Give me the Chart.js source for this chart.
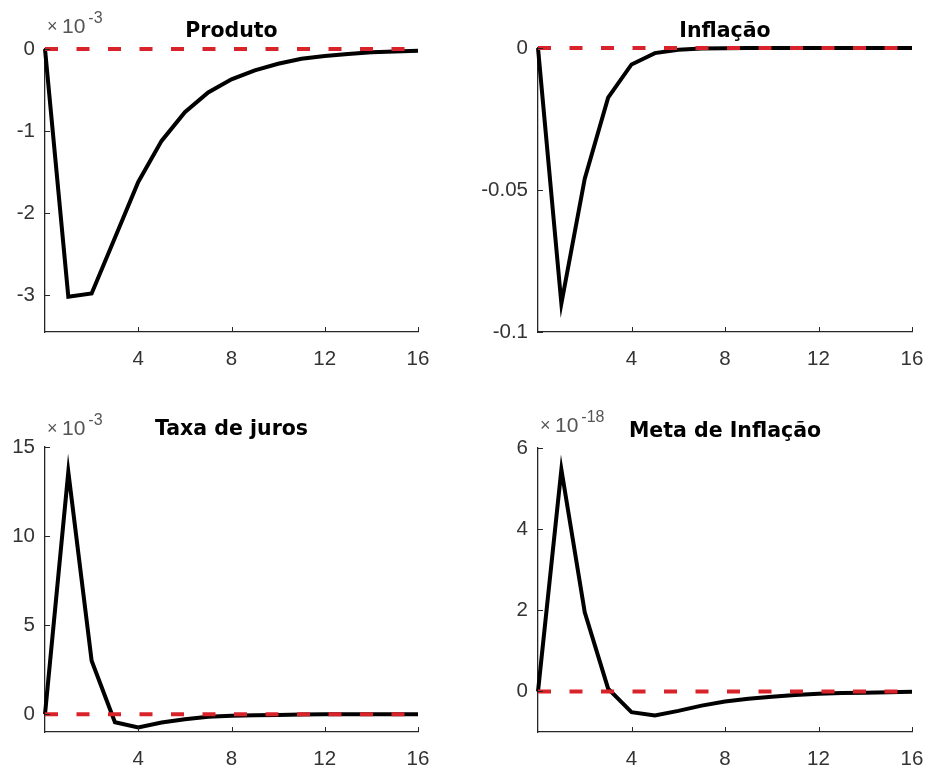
<!DOCTYPE html>
<html><head><meta charset="utf-8">
<script src="https://cdn.jsdelivr.net/npm/chart.js@4/dist/chart.umd.min.js"></script>
<style>
html,body{margin:0;padding:0;background:#fff;width:929px;height:769px;overflow:hidden;position:relative}
canvas{position:absolute;display:block}
</style></head><body>
<canvas id="c1" width="464" height="384" style="left:0px;top:0px;width:464px;height:384px"></canvas>
<canvas id="c2" width="475" height="384" style="left:464px;top:0px;width:475px;height:384px"></canvas>
<canvas id="c3" width="464" height="385" style="left:0px;top:384px;width:464px;height:385px"></canvas>
<canvas id="c4" width="475" height="385" style="left:464px;top:384px;width:475px;height:385px"></canvas>
<script>
// ---- data ----
const periods = [0,1,2,3,4,5,6,7,8,9,10,11,12,13,14,15,16];
const xTicks = [4,8,12,16];

const titles = ['Produto','Inflação','Taxa de juros','Meta de Inflação'];
const exponents = ['-3', null, '-3', '-18'];

// Produto (×10^-3)
const produto = [0,-3.02,-2.98,-2.30,-1.62,-1.12,-0.77,-0.53,-0.37,-0.26,-0.18,-0.12,-0.085,-0.06,-0.04,-0.03,-0.02];
const produtoYTicks = [-3,-2,-1,0];
const produtoYRange = [-3.45, 0];

// Inflação
const inflacao = [0,-0.090,-0.046,-0.0175,-0.0058,-0.0018,-0.0006,-0.0002,-0.0001,0,0,0,0,0,0,0,0];
const inflacaoYTicks = [-0.1,-0.05,0];
const inflacaoYRange = [-0.1, 0];

// Taxa de juros (×10^-3)
const juros = [0,13.6,3.0,-0.45,-0.75,-0.47,-0.28,-0.15,-0.09,-0.06,-0.04,-0.02,-0.01,-0.01,0,0,0];
const jurosYTicks = [0,5,10,15];
const jurosYRange = [-1, 15];

// Meta de Inflação (×10^-18)
const meta = [0,5.47,1.95,0.07,-0.51,-0.59,-0.48,-0.35,-0.25,-0.18,-0.13,-0.09,-0.06,-0.04,-0.03,-0.02,-0.01];
const metaYTicks = [0,2,4,6];
const metaYRange = [-1, 6];

const zeroLine = [0, 0];
const zeroLineX = [0, 16];

// ---- drawing ----
const AXIS_COLOR = '#262626';
const TEXT_COLOR = '#333333';
const RED = '#d9232b';

const decorPlugin = {
  id: 'panelDecor',
  afterDraw(chart, args, opts) {
    const ctx = chart.ctx;
    const a = chart.chartArea;
    const xs = chart.scales.x, ys = chart.scales.y;
    ctx.save();
    // inward ticks
    ctx.strokeStyle = AXIS_COLOR;
    ctx.lineWidth = 1;
    ctx.beginPath();
    ys.ticks.forEach(t => {
      const py = Math.round(ys.getPixelForValue(t.value)) + 0.5;
      ctx.moveTo(a.left, py); ctx.lineTo(a.left + 5, py);
    });
    xs.ticks.forEach(t => {
      const px = Math.round(xs.getPixelForValue(t.value)) + 0.5;
      ctx.moveTo(px, a.bottom); ctx.lineTo(px, a.bottom - 5);
    });
    ctx.stroke();
    // title
    ctx.fillStyle = '#000';
    ctx.font = 'bold 20.5px "DejaVu Sans"';
    ctx.textAlign = 'center';
    ctx.textBaseline = 'alphabetic';
    ctx.fillText(opts.title, (a.left + a.right) / 2, a.top - opts.titleGap);
    // exponent
    if (opts.exp) {
      ctx.textAlign = 'left';
      ctx.fillStyle = '#555';
      let x = a.left + 2;
      const base = a.top - opts.expGap;
      ctx.font = '18px "Liberation Sans"';
      ctx.fillText('×', x, base - 1);
      x += 15;
      ctx.font = '21px "Liberation Sans"';
      ctx.fillText('10', x, base);
      x += ctx.measureText('10').width + 3;
      ctx.font = '16px "Liberation Sans"';
      ctx.fillText(opts.exp, x, base - 10);
    }
    ctx.restore();
  }
};

function makePanel(id, values, yRange, yTicks, title, exp, geom) {
  const pts = periods.map((p, i) => ({x: p, y: values[i]}));
  const zeroPts = zeroLineX.map((p, i) => ({x: p, y: zeroLine[i]}));
  new Chart(document.getElementById(id), {
    type: 'line',
    data: {
      datasets: [
        { data: zeroPts, borderColor: RED, borderWidth: 4, borderDash: [13, 18.5],
          pointRadius: 0, tension: 0, clip: false, borderCapStyle: 'butt' },
        { data: pts, borderColor: '#000', borderWidth: 4, pointRadius: 0, tension: 0,
          clip: false, borderJoinStyle: 'miter', borderCapStyle: 'butt' }
      ]
    },
    options: {
      responsive: false,
      animation: false,
      events: [],
      layout: { padding: { top: geom.top, right: geom.right, left: 0, bottom: 0 } },
      plugins: {
        legend: { display: false },
        tooltip: { enabled: false },
        title: { display: false },
        panelDecor: { title: title, exp: exp, titleGap: geom.titleGap, expGap: geom.expGap }
      },
      scales: {
        x: {
          type: 'linear', min: 0, max: 16,
          afterBuildTicks: s => { s.ticks = xTicks.map(v => ({value: v})); },
          afterFit: s => { s.height = geom.xh; },
          grid: { display: false, drawTicks: false },
          border: { display: true, color: AXIS_COLOR, width: 1.3 },
          ticks: { color: TEXT_COLOR, font: { family: 'Liberation Sans', size: 20.5 }, padding: 15,
                   maxRotation: 0, autoSkip: false, callback: v => String(v) }
        },
        y: {
          type: 'linear', min: yRange[0], max: yRange[1],
          afterBuildTicks: s => { s.ticks = yTicks.map(v => ({value: v})); },
          afterFit: s => { s.width = geom.yw; },
          grid: { display: false, drawTicks: false },
          border: { display: true, color: AXIS_COLOR, width: 1.3 },
          ticks: { color: TEXT_COLOR, font: { family: 'Liberation Sans', size: 20.5 }, padding: 10,
                   autoSkip: false, callback: v => String(v) }
        }
      }
    },
    plugins: [decorPlugin]
  });
}

makePanel('c1', produto, produtoYRange, produtoYTicks, titles[0], exponents[0],
  { top: 49, right: 46, xh: 52, yw: 45, titleGap: 12, expGap: 16 });
makePanel('c2', inflacao, inflacaoYRange, inflacaoYTicks, titles[1], exponents[1],
  { top: 48, right: 27, xh: 52, yw: 74, titleGap: 11, expGap: 16 });
makePanel('c3', juros, jurosYRange, jurosYTicks, titles[2], exponents[2],
  { top: 63, right: 46, xh: 37, yw: 45, titleGap: 12, expGap: 12 });
makePanel('c4', meta, metaYRange, metaYTicks, titles[3], exponents[3],
  { top: 64, right: 27, xh: 37, yw: 74, titleGap: 11, expGap: 16 });
</script>
</body></html>
